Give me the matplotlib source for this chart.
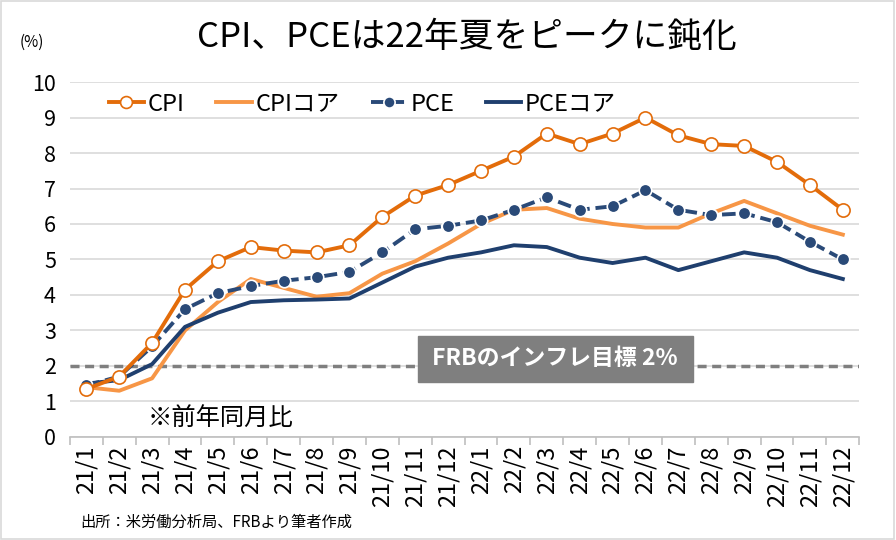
import matplotlib
matplotlib.use("Agg")
import matplotlib.pyplot as plt
from matplotlib.patches import Rectangle

plt.rcParams['font.family'] = ['Noto Sans CJK JP', 'DejaVu Sans']

months = ['21/1', '21/2', '21/3', '21/4', '21/5', '21/6', '21/7', '21/8', '21/9',
          '21/10', '21/11', '21/12', '22/1', '22/2', '22/3', '22/4', '22/5', '22/6',
          '22/7', '22/8', '22/9', '22/10', '22/11', '22/12']
cpi = [1.35, 1.7, 2.65, 4.15, 4.95, 5.35, 5.25, 5.2, 5.4, 6.2, 6.8, 7.1,
       7.5, 7.9, 8.55, 8.25, 8.55, 9.0, 8.5, 8.25, 8.2, 7.75, 7.1, 6.4]
cpi_core = [1.4, 1.3, 1.65, 3.0, 3.8, 4.45, 4.2, 3.95, 4.05, 4.6, 4.95, 5.45,
            6.0, 6.4, 6.45, 6.15, 6.0, 5.9, 5.9, 6.3, 6.65, 6.3, 5.95, 5.7]
pce = [1.45, 1.7, 2.55, 3.6, 4.05, 4.25, 4.4, 4.5, 4.65, 5.2, 5.85, 5.95,
       6.1, 6.4, 6.75, 6.4, 6.5, 6.95, 6.4, 6.25, 6.3, 6.05, 5.5, 5.0]
pce_core = [1.5, 1.6, 2.05, 3.1, 3.5, 3.8, 3.85, 3.87, 3.9, 4.35, 4.8, 5.05,
            5.2, 5.4, 5.35, 5.05, 4.9, 5.05, 4.7, 4.95, 5.2, 5.05, 4.7, 4.45]
target = 2.0

fig = plt.figure(figsize=(8.96, 5.4), dpi=100)
ax = fig.add_axes([0.078, 0.191, 0.881, 0.657])

x = list(range(len(months)))
ax.axhline(target, color='#7F7F7F', lw=2.5, ls=(0, (2.6, 1.6)), zorder=2)
ax.plot(x, cpi_core, color='#F79646', lw=2.8, label='CPIコア', zorder=3)
ax.plot(x, pce_core, color='#1F3F6E', lw=2.8, label='PCEコア', zorder=3)
ax.plot(x, pce, color='#2A4A78', lw=2.8, ls=(0, (3.5, 1.5)), marker='o', ms=9,
        mfc='#2A4A78', mec='white', mew=1.2, label='PCE', zorder=4)
ax.plot(x, cpi, color='#E36C0A', lw=2.8, marker='o', ms=9.5, mfc='white',
        mec='#E36C0A', mew=1.2, label='CPI', zorder=5)

ax.set_xlim(-0.5, len(months) - 0.5)
ax.set_ylim(0, 10)
ax.set_yticks(range(0, 11))
ax.tick_params(axis='y', length=0, labelsize=15.5, pad=10)
ax.grid(axis='y', color='#D9D9D9', lw=1.2)
ax.set_axisbelow(True)
for s in ['top', 'right', 'left']:
    ax.spines[s].set_visible(False)
ax.spines['bottom'].set_color('#BFBFBF')
ax.spines['bottom'].set_linewidth(1.2)

ax.set_xticks(x)
ax.set_xticklabels(months, rotation=90, fontsize=17)
ax.tick_params(axis='x', length=0, pad=6)
ax.set_xticks([i - 0.5 for i in range(len(months) + 1)], minor=True)
ax.tick_params(axis='x', which='minor', length=6, color='#BFBFBF', width=1.2)

handles, labels = ax.get_legend_handles_labels()
order = [labels.index(n) for n in ['CPI', 'CPIコア', 'PCE', 'PCEコア']]
ax.legend([handles[i] for i in order], [labels[i] for i in order], ncol=4,
          loc='upper left', bbox_to_anchor=(0.022, 1.03), frameon=False,
          fontsize=17, handlelength=1.5, handletextpad=0.15, columnspacing=1.35,
          markerscale=0.9)

# target label box
ax.add_patch(Rectangle((10.08, 1.55), 8.35, 1.3, color='#7F7F7F', zorder=6))
ax.text(14.25, 2.2, 'FRBのインフレ目標 2%', color='white', fontsize=16.5,
        fontweight='bold', ha='center', va='center', zorder=7)

ax.text(1.85, 0.5, '※前年同月比', fontsize=17.5, va='center')

fig.text(0.521, 0.93, 'CPI、PCEは22年夏をピークに鈍化', fontsize=25,
         ha='center', va='center')
fig.text(0.022, 0.922, '(%)', fontsize=11, va='center')
fig.text(0.09, 0.032, '出所：米労働分析局、FRBより筆者作成', fontsize=11, va='center')

fig.patches.append(Rectangle((0.001, 0.001), 0.997, 0.997, transform=fig.transFigure,
                             fill=False, ec='#D9D9D9', lw=1.2))

fig.savefig('out.png', dpi=100)
